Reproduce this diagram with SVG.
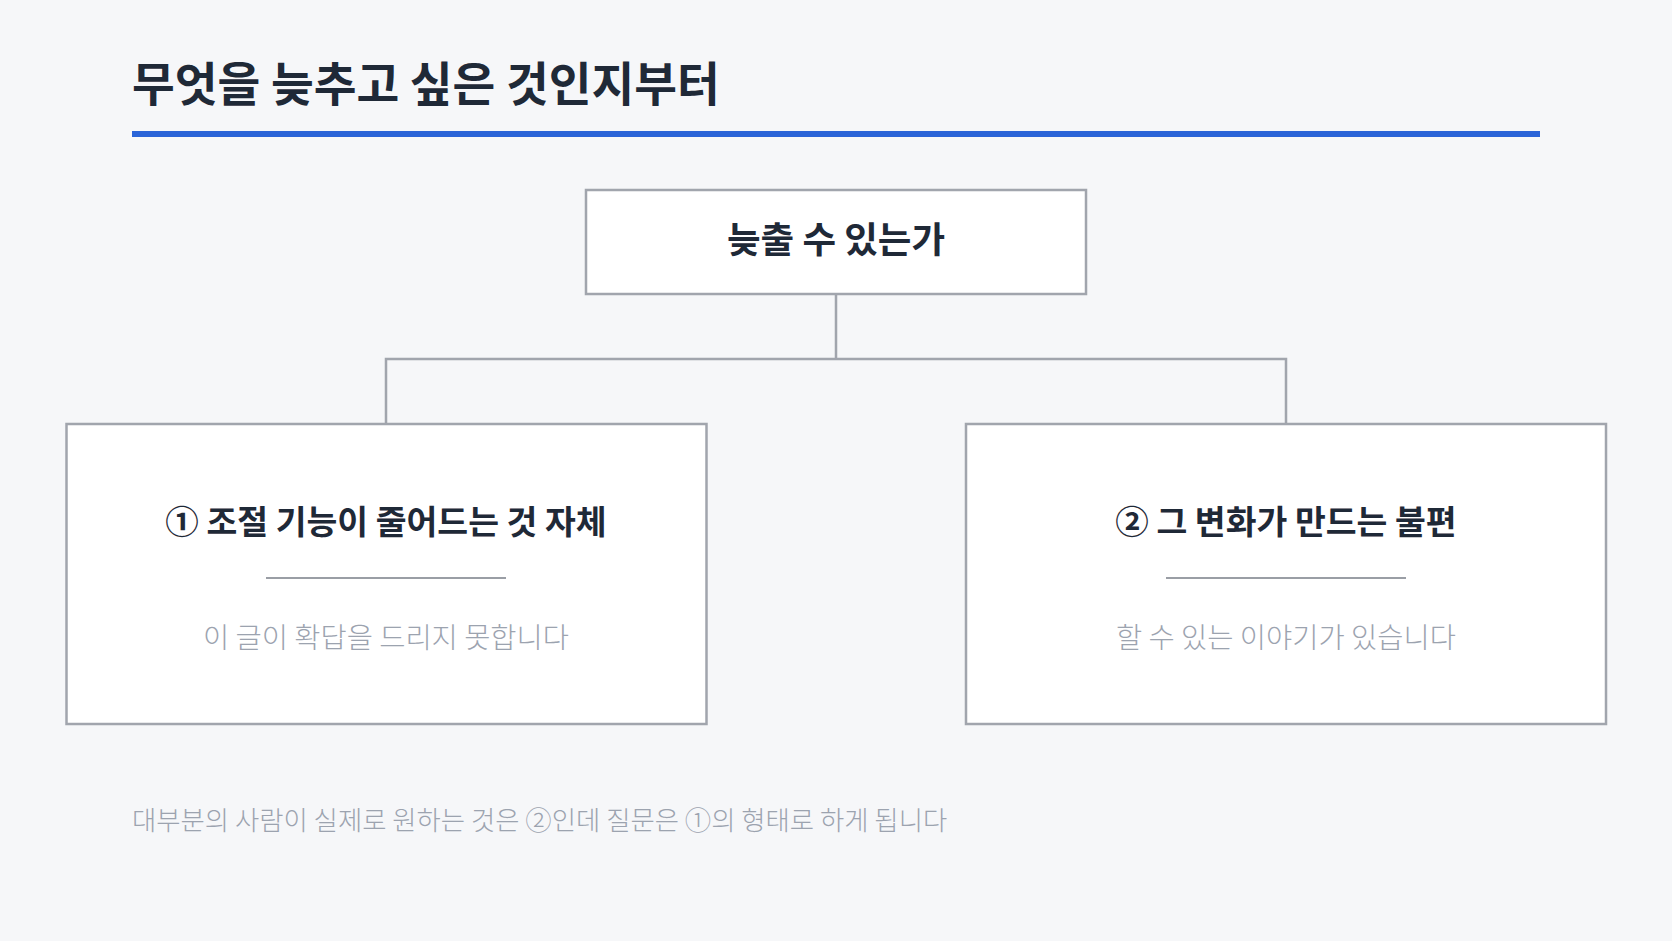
<svg xmlns="http://www.w3.org/2000/svg" width="1672" height="941" viewBox="0 0 1672 941">
<style>
.bg{fill:#f6f7f9}
.box{fill:#ffffff;stroke:#a1a5ad;stroke-width:2.5}
.conn{fill:none;stroke:#a1a5ad;stroke-width:2.5}
.div{stroke:#9a9ea5;stroke-width:2}
text{font-family:"Noto Sans CJK KR","Noto Sans",sans-serif;text-anchor:middle}
.title{font-size:46.5px;font-weight:700;fill:#1f2937;text-anchor:start}
.h{font-weight:700;fill:#1f2937}
.sub{font-size:28.5px;font-weight:300;fill:#9ca3af}
.note{font-size:26.4px;font-weight:300;fill:#9ca3af;text-anchor:start}
</style>
<rect class="bg" x="0" y="0" width="1672" height="941"/>
<text class="title" x="132" y="101">무엇을 늦추고 싶은 것인지부터</text>
<rect x="132" y="131" width="1408" height="6" fill="#2a64d8"/>
<g id="connectors">
<path class="conn" d="M836 294 V359 M386 424 V359 H1286 V424"/>
</g>
<g id="node-top">
<rect class="box" x="586" y="190" width="500" height="104"/>
<text class="h" x="836" y="253" font-size="36.5">늦출 수 있는가</text>
</g>
<g id="node-left">
<rect class="box" x="66.5" y="424" width="640" height="300"/>
<text class="h" x="386" y="534" font-size="33.5">① 조절 기능이 줄어드는 것 자체</text>
<line class="div" x1="266" y1="578" x2="506" y2="578"/>
<text class="sub" x="386" y="648">이 글이 확답을 드리지 못합니다</text>
</g>
<g id="node-right">
<rect class="box" x="966" y="424" width="640" height="300"/>
<text class="h" x="1286" y="534" font-size="33.5">② 그 변화가 만드는 불편</text>
<line class="div" x1="1166" y1="578" x2="1406" y2="578"/>
<text class="sub" x="1286" y="648">할 수 있는 이야기가 있습니다</text>
</g>
<text class="note" x="132" y="830">대부분의 사람이 실제로 원하는 것은 ②인데 질문은 ①의 형태로 하게 됩니다</text>
</svg>
